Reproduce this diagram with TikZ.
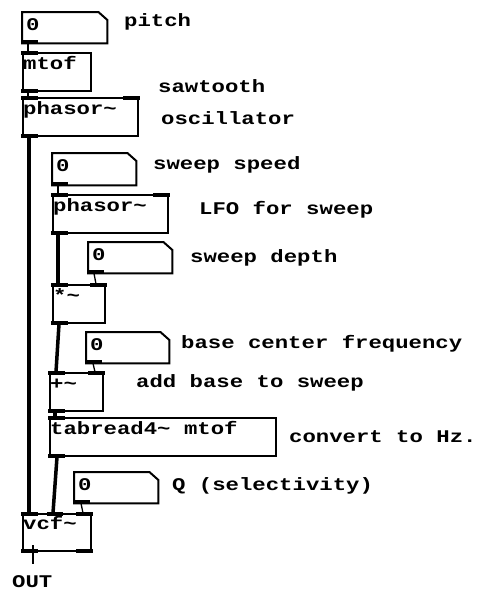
\documentclass[tikz,border=0pt]{standalone}
\usepackage{fontspec}
\usetikzlibrary{calc}
\newfontfamily\pdfont{Liberation Mono}
\newcommand{\pd}[1]{\scalebox{1}[0.8]{#1}}
\begin{document}
\begin{tikzpicture}[x=1pt,y=-1pt,
  objbox/.style={draw=black,line width=2pt,anchor=north west,inner sep=0pt,rectangle},
  numbox/.style={draw=none,anchor=north west,inner sep=0pt,rectangle},
  numline/.style={draw=black,line width=2pt,line join=miter},
  pdtxt/.style={anchor=base west,inner sep=0pt,font=\pdfont\bfseries\fontsize{22.3}{24}\selectfont},
  iolet/.style={fill=black,draw=none},
  ctl/.style={draw=black,line width=1.3pt},
  sig/.style={draw=black,line width=3.5pt}
]
\useasboundingbox (0,0) rectangle (477,592);

% ---------- boxes ----------
\node[numbox,minimum width=85pt,minimum height=31pt] (pitch) at (22,12) {};
\node[objbox,minimum width=68pt,minimum height=38pt] (mtof) at (22,52) {};
\node[objbox,minimum width=115pt,minimum height=38pt] (ph1) at (22,97) {};
\node[numbox,minimum width=84pt,minimum height=32pt] (speed) at (52,153) {};
\node[objbox,minimum width=115pt,minimum height=38pt] (ph2) at (52,194) {};
\node[numbox,minimum width=84pt,minimum height=31pt] (depth) at (88,242) {};
\node[objbox,minimum width=52pt,minimum height=38pt] (mul) at (52,284) {};
\node[numbox,minimum width=83pt,minimum height=31pt] (base) at (86,332) {};
\node[objbox,minimum width=53pt,minimum height=38pt] (add) at (49,372) {};
\node[objbox,minimum width=226pt,minimum height=38pt] (tab) at (49,417) {};
\node[numbox,minimum width=84pt,minimum height=31pt] (q) at (74,472) {};
\node[objbox,minimum width=68pt,minimum height=37pt] (vcf) at (22,513) {};

% number box outlines (cut corner)
\foreach \n in {pitch,speed,depth,base,q}{
  \draw[numline] (\n.north west) -- ($(\n.north east)+(-9,0)$) -- ($(\n.north east)+(0,8)$)
     -- (\n.south east) -- (\n.south west) -- cycle;
}

% ---------- inlets / outlets ----------
\newcommand{\pdoutL}[1]{\fill[iolet] ($(#1.south west)+(-1,-3)$) rectangle ($(#1.south west)+(16,1)$);}
\newcommand{\pdoutR}[1]{\fill[iolet] ($(#1.south east)+(-16,-3)$) rectangle ($(#1.south east)+(1,1)$);}
\newcommand{\pdinL}[1]{\fill[iolet] ($(#1.north west)+(-1,-1)$) rectangle ($(#1.north west)+(16,3)$);}
\newcommand{\pdinR}[1]{\fill[iolet] ($(#1.north east)+(-16,-1)$) rectangle ($(#1.north east)+(1,3)$);}
\foreach \n in {pitch,mtof,ph1,speed,ph2,depth,mul,base,add,tab,q,vcf}{\pdoutL{\n}}
\foreach \n in {mtof,ph1,ph2,mul,add,tab,vcf}{\pdinL{\n}}
\foreach \n in {ph1,ph2,mul,add,vcf}{\pdinR{\n}}
\pdoutR{vcf}
\fill[iolet] ($(vcf.north west)+(25,-1)$) rectangle ($(vcf.north west)+(41,3)$);

% ---------- box texts ----------
\node[pdtxt] (tpitch) at ($(pitch.north west)+(4,18)$) {\pd{0}};
\node[pdtxt] (tmtof) at ($(mtof.north west)+(1,17)$) {\pd{mtof}};
\node[pdtxt] (tph1) at ($(ph1.north west)+(1,17)$) {\pd{phasor\textasciitilde}};
\node[pdtxt] (tspeed) at ($(speed.north west)+(4,18)$) {\pd{0}};
\node[pdtxt] (tph2) at ($(ph2.north west)+(1,17)$) {\pd{phasor\textasciitilde}};
\node[pdtxt] (tdepth) at ($(depth.north west)+(4,18)$) {\pd{0}};
\node[pdtxt] (tmul) at ($(mul.north west)+(1,17)$) {\pd{*\textasciitilde}};
\node[pdtxt] (tbase) at ($(base.north west)+(4,18)$) {\pd{0}};
\node[pdtxt] (tadd) at ($(add.north west)+(1,17)$) {\pd{+\textasciitilde}};
\node[pdtxt] (ttab) at ($(tab.north west)+(1,17)$) {\pd{tabread4\textasciitilde{} mtof}};
\node[pdtxt] (tq) at ($(q.north west)+(4,18)$) {\pd{0}};
\node[pdtxt] (tvcf) at ($(vcf.north west)+(1,16)$) {\pd{vcf\textasciitilde}};

% ---------- comments ----------
\node[pdtxt] (c1) at (124,26) {\pd{pitch}};
\node[pdtxt] (c2) at (158,92) {\pd{sawtooth}};
\node[pdtxt] (c3) at (161,124) {\pd{oscillator}};
\node[pdtxt] (c4) at (153,169) {\pd{sweep speed}};
\node[pdtxt] (c5) at (199,214) {\pd{LFO for sweep}};
\node[pdtxt] (c6) at (190,262) {\pd{sweep depth}};
\node[pdtxt] (c7) at (181,348) {\pd{base center frequency}};
\node[pdtxt] (c8) at (136,387) {\pd{add base to sweep}};
\node[pdtxt] (c9) at (289,442) {\pd{convert to Hz.}};
\node[pdtxt] (c10) at (172,490) {\pd{Q (selectivity)}};
\node[pdtxt] (c11) at (12,587) {\pd{OUT}};

% ---------- connections ----------
\draw[ctl] ($(pitch.south west)+(6,0)$) -- ($(mtof.north west)+(6,0)$);
\draw[ctl] ($(mtof.south west)+(6,0)$) -- ($(ph1.north west)+(6,0)$);
\draw[sig] ($(ph1.south west)+(7,0)$) -- ($(vcf.north west)+(7,0)$);
\draw[ctl] ($(speed.south west)+(6,0)$) -- ($(ph2.north west)+(6,0)$);
\draw[sig] ($(ph2.south west)+(6,0)$) -- ($(mul.north west)+(6,0)$);
\draw[ctl] ($(depth.south west)+(6,0)$) -- ($(mul.north east)+(-10,0)$);
\draw[sig] ($(mul.south west)+(7,0)$) -- ($(add.north west)+(7,0)$);
\draw[ctl] ($(base.south west)+(7,0)$) -- ($(add.north east)+(-9,0)$);
\draw[sig] ($(add.south west)+(6,0)$) -- ($(tab.north west)+(6,0)$);
\draw[sig] ($(tab.south west)+(8,0)$) -- ($(vcf.north west)+(31,0)$);
\draw[ctl] ($(q.south west)+(7,0)$) -- ($(vcf.north east)+(-9,0)$);
\coordinate (outend) at (33,564);
\draw[ctl] ($(vcf.south west)+(11,-7)$) -- (outend);
\end{tikzpicture}
\end{document}
